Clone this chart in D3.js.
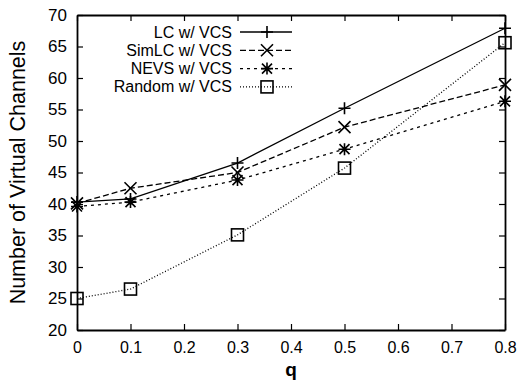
<!DOCTYPE html>
<html>
<head>
<meta charset="utf-8">
<script src="https://cdn.jsdelivr.net/npm/d3@7"></script>
<style>
body { margin: 0; background: #fff; }
svg { font-family: "Liberation Sans", Arial, sans-serif; }
</style>
</head>
<body>
<div id="main"></div>
<script>
"use strict";

var qValues = [0, 0.1, 0.3, 0.5, 0.8];
var lcValues = [40.3, 40.8, 46.5, 55.2, 67.9];
var simlcValues = [40.1, 42.5, 45.0, 52.2, 58.9];
var nevsValues = [39.6, 40.3, 43.8, 48.7, 56.3];
var randomValues = [25.0, 26.5, 35.1, 45.7, 65.6];
var seriesNames = ["LC w/ VCS", "SimLC w/ VCS", "NEVS w/ VCS", "Random w/ VCS"];
var xTicks = [0, 0.1, 0.2, 0.3, 0.4, 0.5, 0.6, 0.7, 0.8];
var yTicks = [20, 25, 30, 35, 40, 45, 50, 55, 60, 65, 70];

var width = 519, height = 388;
var margin = {left: 77, right: 14, top: 15, bottom: 58};

var svg = d3.select("#main").append("svg")
    .attr("width", width).attr("height", height);

var x = d3.scaleLinear().domain([0, 0.8]).range([margin.left, width - margin.right]);
var y = d3.scaleLinear().domain([20, 70]).range([height - margin.bottom, margin.top]);

var series = [
    {name: seriesNames[0], values: lcValues, dash: null, marker: "plus"},
    {name: seriesNames[1], values: simlcValues, dash: "6,3", marker: "cross"},
    {name: seriesNames[2], values: nevsValues, dash: "3,4", marker: "star"},
    {name: seriesNames[3], values: randomValues, dash: "1,2", marker: "square"}
];

// axes with inward ticks, mirrored on top/right
var tl = 6;
svg.append("g").attr("class", "xax").attr("transform", "translate(0," + y(20) + ")")
    .call(d3.axisBottom(x).tickValues(xTicks).tickSizeInner(-tl).tickSizeOuter(0).tickPadding(12)
        .tickFormat(function(d){ return d === 0 ? "0" : d3.format(".1f")(d); }));
svg.append("g").attr("transform", "translate(0," + y(70) + ")")
    .call(d3.axisTop(x).tickValues(xTicks).tickSizeInner(-tl).tickSizeOuter(0).tickFormat(""));
svg.append("g").attr("class", "yax").attr("transform", "translate(" + x(0) + ",0)")
    .call(d3.axisLeft(y).tickValues(yTicks).tickSizeInner(-tl).tickSizeOuter(0).tickPadding(10));
svg.append("g").attr("transform", "translate(" + x(0.8) + ",0)")
    .call(d3.axisRight(y).tickValues(yTicks).tickSizeInner(-tl).tickSizeOuter(0).tickFormat(""));

svg.selectAll(".domain").attr("stroke", "#000").attr("stroke-width", 1.8);
svg.selectAll(".tick line").attr("stroke", "#000").attr("stroke-width", 1.2);
svg.selectAll(".tick text").attr("fill", "#000");
svg.selectAll(".xax .tick text").style("font-size", "16px");
svg.selectAll(".yax .tick text").style("font-size", "17px");

// axis titles
svg.append("text")
    .attr("transform", "translate(25," + ((y(20) + y(70)) / 2) + ") rotate(-90)")
    .attr("text-anchor", "middle").style("font-size", "21.5px").text("Number of Virtual Channels");
svg.append("text")
    .attr("x", (x(0) + x(0.8)) / 2).attr("y", 376)
    .attr("text-anchor", "middle").style("font-size", "19px").style("font-weight", "bold").text("q");

function drawMarker(g, kind, cx, cy) {
    var s = 6;
    if (kind === "plus") {
        g.append("path").attr("d", "M" + (cx - s) + "," + cy + "H" + (cx + s) + "M" + cx + "," + (cy - s) + "V" + (cy + s));
    } else if (kind === "cross") {
        g.append("path").attr("d", "M" + (cx - s) + "," + (cy - s) + "L" + (cx + s) + "," + (cy + s) +
            "M" + (cx - s) + "," + (cy + s) + "L" + (cx + s) + "," + (cy - s));
    } else if (kind === "star") {
        var d = 5;
        g.append("path").attr("d", "M" + (cx - s) + "," + cy + "H" + (cx + s) + "M" + cx + "," + (cy - s) + "V" + (cy + s) +
            "M" + (cx - d) + "," + (cy - d) + "L" + (cx + d) + "," + (cy + d) +
            "M" + (cx - d) + "," + (cy + d) + "L" + (cx + d) + "," + (cy - d));
    } else {
        g.append("rect").attr("x", cx - 6).attr("y", cy - 6).attr("width", 12).attr("height", 12).attr("fill", "none");
    }
}

var line = d3.line().x(function(d, i){ return x(qValues[i]); }).y(function(d){ return y(d); });

series.forEach(function(s) {
    var g = svg.append("g").attr("stroke", "#000").attr("fill", "none").attr("stroke-width", 1.3);
    g.append("path").attr("d", line(s.values)).attr("stroke-dasharray", s.dash);
    var mg = svg.append("g").attr("stroke", "#000").attr("fill", "none").attr("stroke-width", 1.6);
    s.values.forEach(function(v, i){ drawMarker(mg, s.marker, x(qValues[i]), y(v)); });
});

// legend
var legend = svg.append("g");
series.forEach(function(s, i) {
    var ly = 32 + i * 18.3;
    legend.append("text").attr("x", 232).attr("y", ly + 5.5).attr("text-anchor", "end")
        .style("font-size", "16px").text(s.name);
    legend.append("path").attr("d", "M240," + ly + "H292").attr("stroke", "#000").attr("stroke-width", 1.3)
        .attr("stroke-dasharray", s.dash).attr("fill", "none");
    var mg = legend.append("g").attr("stroke", "#000").attr("fill", "none").attr("stroke-width", 1.6);
    drawMarker(mg, s.marker, 267, ly);
});
</script>
</body>
</html>
